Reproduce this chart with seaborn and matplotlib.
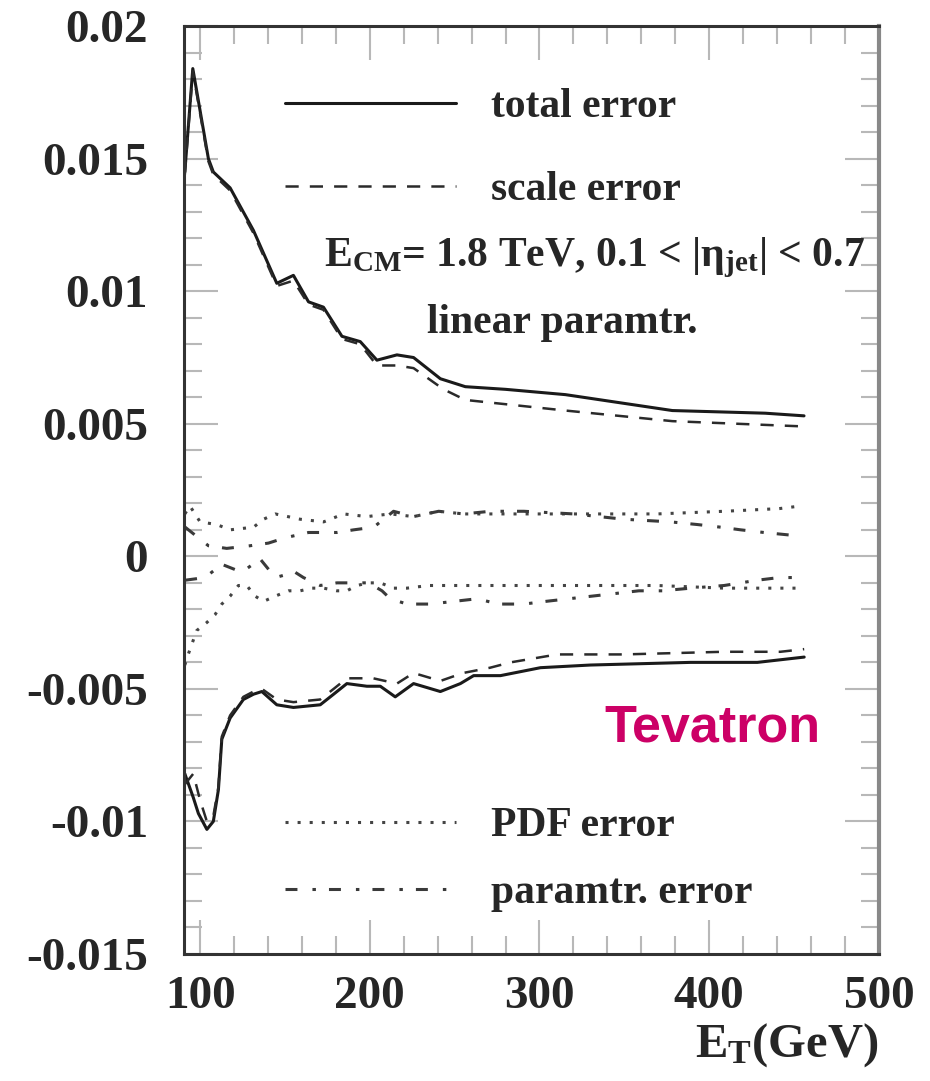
import numpy as np
import pandas as pd
import matplotlib
matplotlib.use("Agg")
import matplotlib.pyplot as plt
import seaborn as sns
from matplotlib.ticker import MultipleLocator

# curves: E_T (GeV) and relative error
et_total_up = [91, 95.7, 104.9, 107.8, 117.7, 131.4, 145.2, 155, 163.9, 172.7, 183.6, 194.4,
               204.2, 216, 225.8, 241.6, 256.3, 280, 315.3, 378.3, 433, 455.9]
total_up = [0.0145, 0.0184, 0.0150, 0.0145, 0.0139, 0.0123, 0.0103, 0.0106, 0.0096, 0.0094, 0.0083, 0.0081,
            0.0074, 0.0076, 0.0075, 0.0067, 0.0064, 0.0063, 0.0061, 0.0055, 0.0054, 0.0053]

et_scale_up = [91, 95.7, 104.9, 107.8, 117.7, 131.4, 145.2, 155, 163.9, 172.7, 183.6, 194.4,
               204.2, 216, 225.8, 243.5, 256.3, 315.3, 378.3, 455.9]
scale_up = [0.0144, 0.0183, 0.0149, 0.0144, 0.0138, 0.0122, 0.0102, 0.0104, 0.0095, 0.0093, 0.0082, 0.0080,
            0.0072, 0.0072, 0.0071, 0.0063, 0.0059, 0.0055, 0.0051, 0.0049]

et_total_lo = [91, 96, 99, 104, 107.8, 110.8, 112.8, 117.7, 125.5, 131.5, 136.4, 145.2, 155, 170.8,
               178.7, 186.5, 198.3, 206.2, 215, 225.8, 241.6, 253.4, 261.2, 277, 300.6, 330, 389, 428.4, 456]
total_lo = [-0.0082, -0.0091, -0.0097, -0.0103, -0.0100, -0.0088, -0.0069, -0.0061, -0.0054, -0.0052,
            -0.0051, -0.0056, -0.0057, -0.0056, -0.0052, -0.0048, -0.0049, -0.0049, -0.0053, -0.0048,
            -0.0051, -0.0048, -0.0045, -0.0045, -0.0042, -0.0041, -0.0040, -0.0040, -0.0038]

et_scale_lo = [91, 96, 100, 104, 107.8, 110.8, 112.8, 117.7, 125.5, 131.5, 136.4, 145.2, 155, 170.8,
               178.7, 186.5, 202, 216, 225.8, 241.6, 255, 271, 282.9, 310.4, 349.6, 408.6, 442, 456]
scale_lo = [-0.0086, -0.0082, -0.0092, -0.0100, -0.0098, -0.0087, -0.0068, -0.0060, -0.0053, -0.0051,
            -0.0050, -0.0054, -0.0055, -0.0054, -0.0050, -0.0046, -0.0046, -0.0048, -0.0044, -0.0047,
            -0.0044, -0.0042, -0.0040, -0.0037, -0.0037, -0.0036, -0.0036, -0.0035]

et_pdf_up = [91, 94, 100, 109.8, 117.7, 131.5, 137.4, 144.3, 159, 172.8, 184.6, 198.3, 212.1, 225.8,
             240.6, 255.3, 271.1, 290.8, 330.1, 369.4, 408.8, 441.2, 454]
pdf_up = [0.0016, 0.0019, 0.0013, 0.0012, 0.0010, 0.0011, 0.0014, 0.0016, 0.0014, 0.0013, 0.0016, 0.0015,
          0.0016, 0.0015, 0.0017, 0.0016, 0.0016, 0.0016, 0.0016, 0.0016, 0.0017, 0.0018, 0.0019]

et_pdf_lo = [91, 93, 98, 103.9, 108.8, 112.8, 117.7, 122.6, 127.5, 132.4, 137.4, 144.3, 152.1, 159,
             165.9, 172.8, 180.6, 186.5, 192.4, 199.3, 206.2, 214, 221.9, 234.7, 249.4, 263.2, 271.1,
             290.8, 330.1, 369.4, 408.8, 436.3, 452]
pdf_lo = [-0.0041, -0.0037, -0.0028, -0.0025, -0.0022, -0.0018, -0.0015, -0.0011, -0.0011, -0.0015,
          -0.0017, -0.0015, -0.0013, -0.0013, -0.0012, -0.0012, -0.0013, -0.0013, -0.0011, -0.0010,
          -0.0010, -0.0012, -0.0012, -0.0011, -0.0011, -0.0011, -0.0011, -0.0011, -0.0011, -0.0011,
          -0.0012, -0.0012, -0.0012]

et_par_up = [91.2, 104.9, 115.7, 129.5, 140.3, 150.1, 163.9, 180.6, 190.5, 202.3, 214, 225.8, 240.6,
             255.3, 271.1, 290.8, 320.2, 349.8, 377.3, 393, 406.8, 418.6, 432.3, 448.1, 454]
par_up = [0.0011, 0.0004, 0.0003, 0.0004, 0.0005, 0.0007, 0.0009, 0.0009, 0.0010, 0.0011, 0.0017, 0.0015,
          0.0017, 0.0016, 0.0017, 0.0017, 0.0016, 0.0014, 0.0013, 0.0012, 0.0011, 0.0010, 0.0009, 0.0008,
          0.0007]

et_par_lo = [91.2, 102.9, 112.8, 124.6, 135.4, 144.3, 156, 160.9, 170.8, 180.6, 187.5, 199.3, 207.2,
             212.1, 221.9, 235.6, 249.4, 263.2, 276, 290.8, 303.5, 317.3, 331.1, 344.9, 358.6, 372.4,
             389.1, 408.8, 428.4, 441.2, 454]
par_lo = [-0.0009, -0.0008, -0.0003, -0.0006, -0.0001, -0.0008, -0.0006, -0.0008, -0.0011, -0.0010,
          -0.0010, -0.0010, -0.0013, -0.0016, -0.0018, -0.0018, -0.0017, -0.0016, -0.0018, -0.0018,
          -0.0017, -0.0016, -0.0015, -0.0014, -0.0013, -0.0013, -0.0012, -0.0011, -0.0009, -0.0008,
          -0.0008]

x_ticks = [100, 200, 300, 400, 500]
y_ticks = [-0.015, -0.01, -0.005, 0, 0.005, 0.01, 0.015, 0.02]
y_tick_labels = ["-0.015", "-0.01", "-0.005", "0", "0.005", "0.01", "0.015", "0.02"]

sns.set_style("ticks")
plt.rcParams["font.family"] = ["Liberation Serif", "DejaVu Serif"]
plt.rcParams["font.weight"] = "bold"
plt.rcParams["axes.labelweight"] = "bold"
plt.rcParams["mathtext.fontset"] = "custom"
plt.rcParams["mathtext.rm"] = "Liberation Serif:bold"
plt.rcParams["mathtext.it"] = "Liberation Serif:italic:bold"
plt.rcParams["mathtext.bf"] = "Liberation Serif:bold"
plt.rcParams["lines.scale_dashes"] = False

fig = plt.figure(figsize=(9.3, 10.81), dpi=100)
ax = fig.add_axes([0.198, 0.1175, 0.747, 0.8583])

solid_kw = dict(color="#1a1a1a", linewidth=2.2, linestyle="-")
dash_kw = dict(color="#2a2a2a", linewidth=1.8, dashes=(9.5, 8))
dot_kw = dict(color="#444444", linewidth=2.2, dashes=(2.2, 6.5))
dashdot_kw = dict(color="#3a3a3a", linewidth=2.2, dashes=(8.6, 10.8, 2.5, 9.4))

def draw(x, y, kw):
    df = pd.DataFrame({"et": x, "err": y})
    sns.lineplot(data=df, x="et", y="err", ax=ax, sort=False, **kw)
    return ax.lines[-1]

h_total = draw(et_total_up, total_up, solid_kw)
draw(et_total_lo, total_lo, solid_kw)
h_scale = draw(et_scale_up, scale_up, dash_kw)
draw(et_scale_lo, scale_lo, dash_kw)
h_pdf = draw(et_pdf_up, pdf_up, dot_kw)
draw(et_pdf_lo, pdf_lo, dot_kw)
h_par = draw(et_par_up, par_up, dashdot_kw)
draw(et_par_lo, par_lo, dashdot_kw)

ax.set_xlim(90.6, 500)
ax.set_ylim(-0.015, 0.02)
ax.set_xticks(x_ticks)
ax.set_xticklabels([str(t) for t in x_ticks])
ax.xaxis.set_minor_locator(MultipleLocator(20))
ax.set_yticks(y_ticks)
ax.set_yticklabels(y_tick_labels)
ax.yaxis.set_minor_locator(MultipleLocator(0.001))

ax.tick_params(which="both", direction="in", top=True, right=True, color="#b8b8b8", width=1.5)
ax.tick_params(which="major", length=24.5, labelsize=34)
ax.tick_params(which="minor", length=13)
ax.tick_params(axis="y", which="major", pad=26)
ax.tick_params(axis="x", which="major", pad=16)

for side in ["left", "bottom", "top"]:
    ax.spines[side].set_color("#333333")
    ax.spines[side].set_linewidth(2.2)
ax.spines["right"].set_color("#888888")
ax.spines["right"].set_linewidth(3)

ax.set_xlabel(r"E$_{\rm T}$(GeV)", fontsize=35, fontweight="bold", loc="right", labelpad=2)
ax.set_ylabel("")

leg1 = ax.legend(handles=[h_total, h_scale], labels=["total error", "scale error"],
                 loc="upper left", bbox_to_anchor=(0.145, 0.933), frameon=False,
                 fontsize=30, handlelength=4.1, handletextpad=0.85, labelspacing=1.07,
                 borderpad=0, borderaxespad=0)
ax.add_artist(leg1)
ax.legend(handles=[h_pdf, h_par], labels=["PDF error", "paramtr. error"],
          loc="lower left", bbox_to_anchor=(0.145, 0.045), frameon=False,
          fontsize=30, handlelength=4.1, handletextpad=0.85, labelspacing=0.69,
          borderpad=0, borderaxespad=0)

ax.text(0.591, 0.75, r"E$_{\rm CM}$= 1.8 TeV, 0.1 < |η$_{\rm jet}$| < 0.7",
        transform=ax.transAxes, ha="center", va="center", fontsize=30)
ax.text(0.544, 0.68, "linear paramtr.", transform=ax.transAxes,
        ha="center", va="center", fontsize=30)
ax.text(0.76, 0.2435, "Tevatron", transform=ax.transAxes, ha="center", va="center",
        fontsize=37.5, color="#cc0066", fontweight="bold",
        family=["Liberation Sans", "DejaVu Sans"])

fig.savefig("out.png", dpi=100)
